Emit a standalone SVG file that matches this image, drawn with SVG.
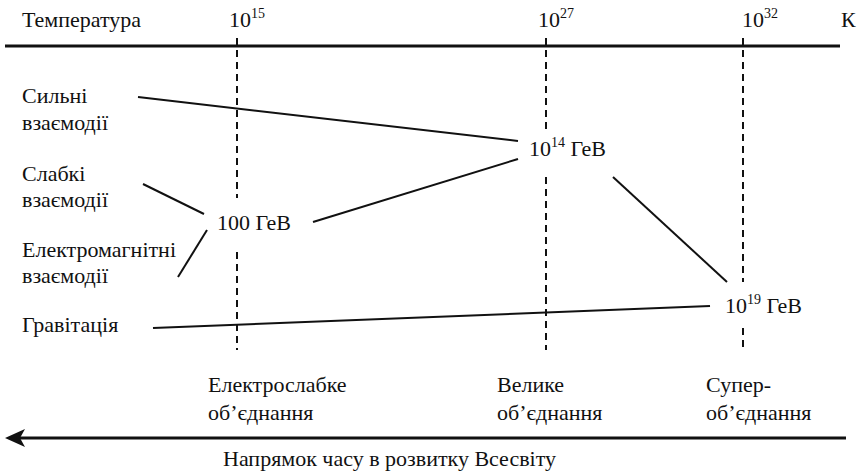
<svg xmlns="http://www.w3.org/2000/svg" width="868" height="473" viewBox="0 0 868 473">
<style>
.ln{stroke:#111;stroke-width:2;fill:none}
.ax{stroke:#111;stroke-width:3;fill:none}
.dash{stroke:#111;stroke-width:2;stroke-dasharray:7 5;fill:none}
</style>
<rect width="868" height="473" fill="#fff"/>
<g id="axis-top">
<line class="ax" x1="5" y1="46" x2="840" y2="46"/>
<text x="22" y="27" style="font-family:'Liberation Serif',serif;font-size:22px;fill:#111">Температура</text>
<text x="229" y="27" style="font-family:'Liberation Serif',serif;font-size:22px;fill:#111">10<tspan style="font-size:14px" dy="-9">15</tspan></text>
<text x="538" y="27" style="font-family:'Liberation Serif',serif;font-size:22px;fill:#111">10<tspan style="font-size:14px" dy="-9">27</tspan></text>
<text x="742" y="27" style="font-family:'Liberation Serif',serif;font-size:22px;fill:#111">10<tspan style="font-size:14px" dy="-9">32</tspan></text>
<text x="841" y="27" style="font-family:'Liberation Serif',serif;font-size:22px;fill:#111">К</text>
</g>
<g id="guides">
<path class="dash" d="M237,38V198M237,252V350"/>
<path class="dash" d="M546,38V130M546,177V350"/>
<path class="dash" d="M743,38V282M743,328V350"/>
</g>
<g id="label-strong"><text x="22" y="103" style="font-family:'Liberation Serif',serif;font-size:22px;fill:#111">Сильні</text><text x="22" y="130" style="font-family:'Liberation Serif',serif;font-size:22px;fill:#111">взаємодії</text></g>
<g id="label-weak"><text x="22" y="181" style="font-family:'Liberation Serif',serif;font-size:22px;fill:#111">Слабкі</text><text x="22" y="207" style="font-family:'Liberation Serif',serif;font-size:22px;fill:#111">взаємодії</text></g>
<g id="label-em"><text x="22" y="257" style="font-family:'Liberation Serif',serif;font-size:22px;fill:#111">Електромагнітні</text><text x="22" y="283" style="font-family:'Liberation Serif',serif;font-size:22px;fill:#111">взаємодії</text></g>
<g id="label-grav"><text x="22" y="332" style="font-family:'Liberation Serif',serif;font-size:22px;fill:#111">Гравітація</text></g>
<g id="node-100"><text x="217" y="230" style="font-family:'Liberation Serif',serif;font-size:22px;fill:#111">100 ГеВ</text></g>
<g id="node-1e14"><text x="529" y="156" style="font-family:'Liberation Serif',serif;font-size:22px;fill:#111">10<tspan style="font-size:14px" dy="-9">14</tspan><tspan dy="9"> ГеВ</tspan></text></g>
<g id="node-1e19"><text x="725" y="313" style="font-family:'Liberation Serif',serif;font-size:22px;fill:#111">10<tspan style="font-size:14px" dy="-9">19</tspan><tspan dy="9"> ГеВ</tspan></text></g>
<g id="connectors">
<line class="ln" x1="138" y1="97" x2="518" y2="141"/>
<line class="ln" x1="143" y1="184" x2="204" y2="214"/>
<line class="ln" x1="207" y1="230" x2="178" y2="277"/>
<line class="ln" x1="313" y1="222" x2="518" y2="159"/>
<line class="ln" x1="613" y1="177" x2="727" y2="282"/>
<line class="ln" x1="153" y1="328" x2="710" y2="306"/>
</g>
<g id="label-ew"><text x="208" y="392" style="font-family:'Liberation Serif',serif;font-size:22px;fill:#111">Електрослабке</text><text x="208" y="420" style="font-family:'Liberation Serif',serif;font-size:22px;fill:#111">об’єднання</text></g>
<g id="label-gut"><text x="497" y="392" style="font-family:'Liberation Serif',serif;font-size:22px;fill:#111">Велике</text><text x="497" y="420" style="font-family:'Liberation Serif',serif;font-size:22px;fill:#111">об’єднання</text></g>
<g id="label-super"><text x="706" y="392" style="font-family:'Liberation Serif',serif;font-size:22px;fill:#111">Супер-</text><text x="706" y="420" style="font-family:'Liberation Serif',serif;font-size:22px;fill:#111">об’єднання</text></g>
<g id="time-arrow">
<line class="ax" x1="18" y1="438" x2="846" y2="438"/>
<path d="M5,438L25,429L20,438L25,447Z" fill="#111"/>
<text x="223" y="466" style="font-family:'Liberation Serif',serif;font-size:22px;fill:#111">Напрямок часу в розвитку Всесвіту</text>
</g>
</svg>
